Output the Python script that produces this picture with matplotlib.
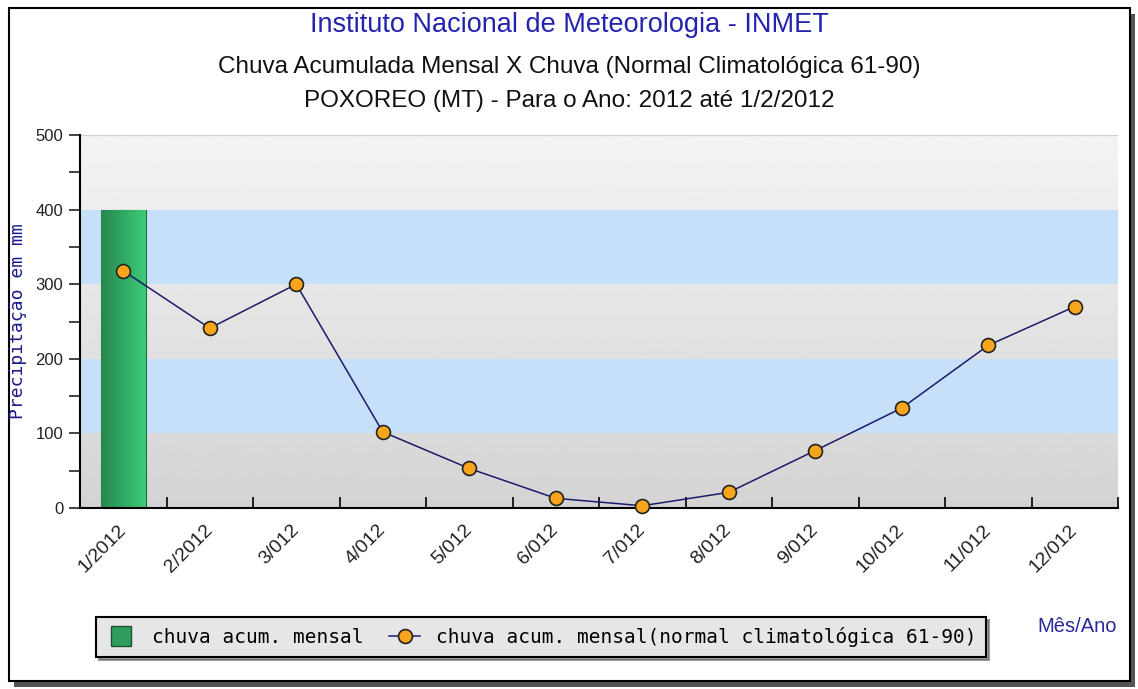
import numpy as np
import matplotlib
matplotlib.use('Agg')
import matplotlib.pyplot as plt
from matplotlib.patches import Rectangle
from matplotlib.lines import Line2D

meses = ['1/2012', '2/2012', '3/012', '4/012', '5/012', '6/012',
         '7/012', '8/012', '9/012', '10/012', '11/012', '12/012']
chuva_mensal = [400]  # so janeiro tem dado
chuva_normal = [318, 241, 300, 102, 53, 13, 3, 21, 77, 134, 218, 270]
y_ticks = [0, 100, 200, 300, 400, 500]
faixas_azuis = [(100, 200), (300, 400)]

titulo1 = 'Instituto Nacional de Meteorologia - INMET'
titulo2 = 'Chuva Acumulada Mensal X Chuva (Normal Climatológica 61-90)'
titulo3 = 'POXOREO (MT) - Para o Ano: 2012 até 1/2/2012'

plt.rcParams['font.family'] = ['Liberation Sans', 'DejaVu Sans']

fig = plt.figure(figsize=(11.38, 6.89), dpi=100)
W, H = 1138, 689

# moldura com sombra
fig.patches.append(Rectangle((14 / W, 1 - 687 / H), 1121 / W, 673 / H,
                             transform=fig.transFigure, facecolor='#555555',
                             edgecolor='none', zorder=0))
fig.patches.append(Rectangle((9 / W, 1 - 681 / H), 1121 / W, 673 / H,
                             transform=fig.transFigure, facecolor='white',
                             edgecolor='black', linewidth=1.5, zorder=1))

ax = fig.add_axes([80 / W, 1 - 508 / H, 1038 / W, 373 / H])
ax.set_zorder(2)
x = np.arange(len(meses))
ax.set_xlim(-0.5, len(meses) - 0.5)
ax.set_ylim(0, 500)

# fundo em degrade + faixas azuis
grad = np.linspace(0.83, 0.955, 256).reshape(-1, 1)
ax.imshow(grad, extent=(-0.5, len(meses) - 0.5, 0, 500), origin='lower',
          cmap='gray', vmin=0, vmax=1, aspect='auto', zorder=0)
for a, b in faixas_azuis:
    ax.axhspan(a, b, color='#c6e0fa', zorder=1, lw=0)
ax.axhline(500, color='#d0d0d0', lw=1, zorder=1)

# barra com degrade verde
bars = ax.bar(x[:len(chuva_mensal)], chuva_mensal, width=0.52,
              color='#33b068', edgecolor='#1f6b3f', linewidth=0.8, zorder=2)
for b in bars:
    bx, by = b.get_x(), b.get_y()
    g = np.linspace(0, 1, 64).reshape(1, -1)
    im = ax.imshow(g, extent=(bx, bx + b.get_width(), by, by + b.get_height()),
                   cmap=matplotlib.colors.LinearSegmentedColormap.from_list(
                       'v', ['#26874f', '#3ccb78']),
                   aspect='auto', zorder=2.5)
    im.set_clip_path(b)

ax.plot(x, chuva_normal, color='#1b1b6b', lw=1.1, marker='o', ms=10,
        mfc='#f6a51c', mec='#222222', mew=1.2, zorder=4, clip_on=False)

# eixos
for s in ['top', 'right']:
    ax.spines[s].set_visible(False)
ax.spines['left'].set_linewidth(1.5)
ax.spines['bottom'].set_linewidth(1.5)
ax.set_yticks(y_ticks)
ax.set_yticks(range(50, 500, 100), minor=True)
ax.tick_params(axis='y', which='both', direction='out', length=8, width=1.2,
               labelsize=12, colors='#222222', pad=4)
ax.set_xticks(np.arange(0.5, len(meses), 1))
ax.set_xticklabels([])
ax.tick_params(axis='x', which='major', direction='in', length=8, width=1.2)
ax.set_xticks(x, minor=True)
ax.set_xticklabels(meses, minor=True, rotation=45, ha='right', va='center',
                   rotation_mode='anchor', fontsize=14, color='#222222')
ax.tick_params(axis='x', which='minor', length=0, pad=14)

ax.set_ylabel('Precipitação em mm', family='DejaVu Sans Mono', fontsize=13,
              color='#1a1a8c')
ax.yaxis.set_label_coords(-53 / 1038, 0.50)

fig.text(0.5, 1 - 25 / H, titulo1, ha='center', va='center', fontsize=19.5,
         color='#2323b0', zorder=3)
fig.text(0.5, 1 - 67 / H, titulo2, ha='center', va='center', fontsize=17.5,
         color='#111111', zorder=3)
fig.text(0.5, 1 - 101 / H, titulo3, ha='center', va='center', fontsize=17.5,
         color='#111111', zorder=3)
fig.text(1077 / W, 1 - 627 / H, 'Mês/Ano', ha='center', va='center',
         fontsize=14.5, color='#2a2a9a', zorder=3)

handles = [Line2D([], [], linestyle='none', marker='s', ms=15,
                  mfc='#2f9e5c', mec='#1f4f33', mew=1),
           Line2D([], [], color='#1b1b6b', lw=1.1, marker='o', ms=10,
                  mfc='#f6a51c', mec='#222222', mew=1.2)]
leg = fig.legend(handles, ['chuva acum. mensal',
                           'chuva acum. mensal(normal climatológica 61-90)'],
                 loc='center left', bbox_to_anchor=(96 / W, 1 - 637 / H),
                 ncol=2, frameon=True, fancybox=False, shadow=True,
                 prop={'family': 'DejaVu Sans Mono', 'size': 14},
                 handlelength=1.6, handletextpad=0.8, columnspacing=1.3,
                 borderpad=0.5, borderaxespad=0)
leg.get_frame().set_facecolor('#e6e6e6')
leg.get_frame().set_edgecolor('black')
leg.get_frame().set_linewidth(1.5)
leg.get_frame().set_alpha(1)
leg.set_zorder(3)

fig.savefig('out.png', dpi=100)
